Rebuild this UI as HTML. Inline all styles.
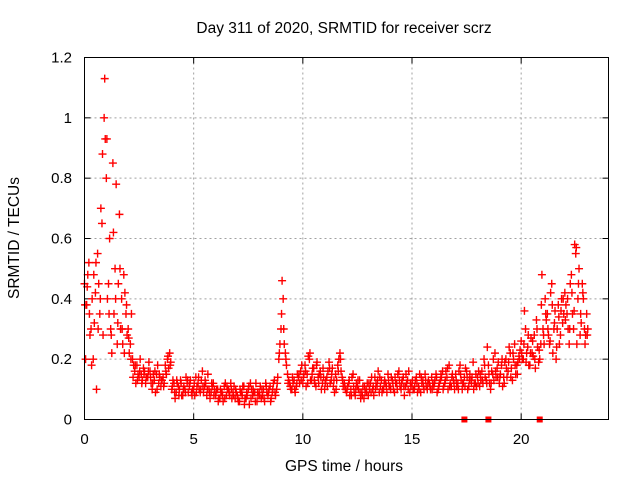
<!DOCTYPE html>
<html><head><meta charset="utf-8"><style>
body{margin:0;background:#fff}
svg{display:block;font-family:"Liberation Sans",sans-serif}
</style></head><body>
<svg id="chart" width="640" height="480">
<text x="344" y="33" text-anchor="middle" font-size="15.5">Day 311 of 2020, SRMTID for receiver scrz</text>
<text x="344" y="471" text-anchor="middle" font-size="15.5">GPS time / hours</text>
<text transform="translate(19,238) rotate(-90)" text-anchor="middle" font-size="15.5">SRMTID / TECUs</text>
<g id="grid"></g><g id="ticks"></g><g id="marks"></g>
<rect x="84.5" y="57.5" width="524" height="362" fill="none" stroke="#000"/>
</svg>
<script>
const xTicks=[0,5,10,15,20];
const yTicks=[0,0.2,0.4,0.6,0.8,1,1.2];
const yTickLabels=["0","0.2","0.4","0.6","0.8","1","1.2"];
const step=0.1;
const seriesA=[.45,.38,.52,.30,.20,.42,.55,.35,.65,1.00,
.80,.45,.30,.85,.50,.25,.68,.40,.48,.35,
.30,.25,.20,.16,.18,.14,.15,.17,.12,.14,
.16,.10,.13,.15,.12,.11,.14,.18,.20,.22,
.10,.12,.09,.11,.13,.08,.10,.12,.11,.09,
.10,.14,.12,.09,.16,.11,.08,.10,.09,.12,
.08,.10,.07,.09,.11,.08,.10,.12,.09,.07,
.08,.06,.09,.11,.07,.10,.12,.08,.09,.06,
.09,.07,.10,.12,.08,.11,.09,.13,.10,.20,
.30,.40,.22,.15,.12,.10,.13,.11,.14,.16,
.12,.18,.15,.20,.13,.17,.11,.14,.16,.12,
.10,.14,.19,.13,.11,.15,.18,.22,.14,.12,
.09,.12,.10,.15,.08,.11,.13,.09,.07,.10,
.08,.12,.10,.14,.11,.09,.13,.10,.12,.15,
.11,.13,.09,.12,.16,.10,.14,.11,.13,.09,
.12,.10,.14,.11,.09,.13,.15,.10,.12,.14,
.11,.15,.10,.13,.16,.12,.14,.18,.11,.13,
.15,.12,.18,.10,.14,.16,.11,.13,.19,.12,
.14,.11,.16,.20,.13,.18,.10,.15,.22,.17,
.12,.18,.14,.20,.16,.22,.13,.25,.18,.21,
.26,.20,.30,.24,.18,.22,.28,.33,.19,.25,
.30,.40,.35,.25,.45,.30,.20,.38,.28,.32,
.42,.35,.25,.48,.30,.55,.40,.28,.45,.30,
.35];
const seriesB=[.20,.48,.28,.40,.32,.10,.45,.70,.28,.93,
.40,.60,.22,.35,.78,.45,.30,.25,.42,.28,
.22,.35,.18,.12,.15,.20,.13,.16,.14,.19,
.12,.15,.09,.18,.14,.13,.12,.15,.17,.19,
.13,.07,.12,.10,.08,.11,.14,.09,.13,.10,
.08,.11,.10,.13,.09,.12,.15,.07,.11,.10,
.10,.07,.09,.06,.12,.10,.08,.07,.11,.09,
.06,.09,.11,.07,.08,.05,.10,.09,.12,.08,
.11,.08,.06,.09,.10,.07,.12,.08,.14,.25,
.46,.25,.18,.13,.10,.12,.09,.15,.12,.18,
.15,.11,.21,.13,.17,.12,.19,.15,.10,.14,
.13,.16,.12,.17,.09,.13,.20,.16,.11,.10,
.11,.08,.14,.09,.12,.10,.07,.11,.09,.12,
.10,.14,.08,.12,.16,.11,.10,.13,.09,.11,
.14,.10,.12,.15,.11,.13,.08,.12,.16,.11,
.10,.13,.09,.15,.12,.10,.11,.13,.10,.12,
.13,.09,.12,.14,.11,.16,.10,.12,.15,.10,
.11,.16,.13,.12,.17,.10,.15,.14,.12,.11,
.16,.13,.12,.14,.24,.12,.16,.13,.14,.19,
.15,.11,.19,.14,.24,.17,.20,.15,.19,.23,
.20,.36,.22,.18,.27,.21,.17,.24,.20,.48,
.25,.33,.28,.42,.22,.36,.30,.25,.40,.35,
.38,.30,.45,.35,.58,.25,.50,.32,.40,.28,
.30];
const seriesC=[.38,.44,.35,.18,.48,.52,.30,.40,.88,1.13,
.93,.35,.28,.62,.40,.32,.50,.30,.22,.38,
.27,.20,.14,.18,.13,.16,.12,.15,.14,.16,
.14,.12,.16,.10,.15,.13,.11,.16,.21,.18,
.11,.09,.13,.08,.12,.10,.09,.13,.12,.08,
.12,.09,.14,.10,.11,.13,.10,.09,.12,.08,
.09,.06,.10,.08,.07,.11,.09,.10,.08,.10,
.07,.10,.08,.05,.09,.11,.07,.10,.06,.09,
.08,.10,.07,.11,.09,.06,.10,.09,.12,.22,
.35,.30,.20,.12,.11,.14,.10,.12,.15,.13,
.14,.16,.12,.22,.15,.13,.18,.12,.14,.17,
.12,.11,.17,.15,.13,.10,.16,.20,.13,.11,
.10,.13,.08,.11,.10,.13,.09,.08,.11,.09,
.12,.09,.11,.10,.13,.14,.09,.12,.11,.13,
.10,.12,.14,.10,.13,.12,.11,.15,.10,.12,
.13,.11,.12,.10,.14,.11,.13,.12,.11,.10,
.12,.14,.11,.15,.10,.13,.17,.11,.14,.12,
.13,.10,.15,.12,.11,.14,.13,.12,.10,.15,
.12,.15,.13,.18,.12,.15,.12,.20,.16,.14,
.14,.20,.12,.17,.19,.14,.22,.18,.15,.20,
.22,.25,.19,.28,.22,.26,.20,.30,.23,.38,
.28,.35,.30,.26,.38,.32,.24,.34,.36,.40,
.33,.40,.30,.42,.36,.57,.45,.35,.42,.25,
.28];
const gapHours=[17.4,18.5,20.85];
const NS="http://www.w3.org/2000/svg";
const X0=84.5,X1=608.5,Y0=419.5,Y1=57.5,XMAX=24,YMAX=1.2;
function sx(h){return X0+(X1-X0)*h/XMAX;}
function sy(v){return Y0-(Y0-Y1)*v/YMAX;}
function mk(tag,attrs,parent){const e=document.createElementNS(NS,tag);for(const k in attrs)e.setAttribute(k,attrs[k]);parent.appendChild(e);return e;}
const grid=document.getElementById('grid'),ticks=document.getElementById('ticks'),marks=document.getElementById('marks');
xTicks.forEach(t=>{
  const x=sx(t);
  if(t>0){const g=mk('line',{x1:x,x2:x,y1:Y1,y2:Y0,stroke:'#a0a0a0','stroke-dasharray':'2,3'},grid);
  
  }
  mk('line',{x1:x,x2:x,y1:Y0,y2:Y0-6,stroke:'#000'},ticks);
  mk('line',{x1:x,x2:x,y1:Y1,y2:Y1+6,stroke:'#000'},ticks);
  const l=mk('text',{x:x,y:444,'text-anchor':'middle','font-size':'15'},ticks);l.textContent=t;
  
  
});
yTicks.forEach((t,i)=>{
  const y=sy(t);
  if(t>0&&t<YMAX){const g=mk('line',{x1:X0,x2:X1,y1:y,y2:y,stroke:'#a0a0a0','stroke-dasharray':'2,3'},grid);
  
  }
  mk('line',{x1:X0,x2:X0+6,y1:y,y2:y,stroke:'#000'},ticks);
  mk('line',{x1:X1,x2:X1-6,y1:y,y2:y,stroke:'#000'},ticks);
  const l=mk('text',{x:72,y:y+5,'text-anchor':'end','font-size':'15'},ticks);l.textContent=yTickLabels[i];
  
  
});
function plus(h,v){
  const x=sx(h),y=sy(v);
  const p=mk('path',{d:`M${x-4},${y}H${x+4}M${x},${y-4}V${y+4}`,stroke:'#f00','stroke-width':'1.4',fill:'none'},marks);
  
  
}
seriesA.forEach((v,i)=>plus(i*step,v));
seriesB.forEach((v,i)=>plus(i*step+step/2,v));
seriesC.forEach((v,i)=>plus(i*step+step/4,v));
gapHours.forEach(h=>{
  const r=mk('rect',{x:sx(h)-3,y:Y0-3,width:6,height:6,fill:'#f00'},marks);
  
  
});
</script>
</body></html>
